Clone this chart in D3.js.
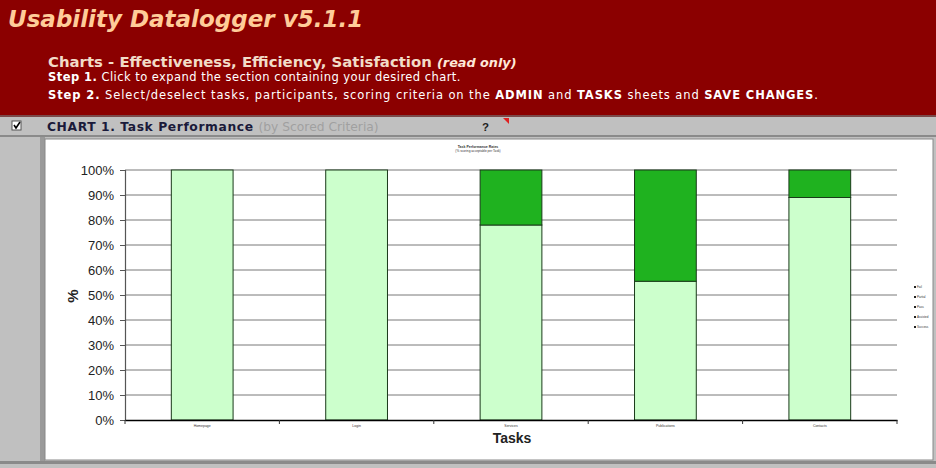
<!DOCTYPE html>
<html><head><meta charset="utf-8">
<script src="https://cdn.jsdelivr.net/npm/d3@7"></script>
<style>
body{margin:0;padding:0;background:#c0c0c0;}
svg{display:block;}
</style></head>
<body>
<svg id="c" width="936" height="468"></svg>
<script>
const categories = ["Homepage", "Login", "Services", "Publications", "Contacts"];
const passValues = [100, 100, 78, 55.5, 89];
const failValues = [0, 0, 22, 44.5, 11];
const yTicks = [0, 10, 20, 30, 40, 50, 60, 70, 80, 90, 100];

(function () {
const svg = d3.select("#c");
const W = 936, H = 468;

// background
svg.append("rect").attr("width", W).attr("height", H).attr("fill", "#c0c0c0");
// header band
svg.append("rect").attr("x", 0).attr("y", 0).attr("width", W).attr("height", 116).attr("fill", "#8b0000");
svg.append("rect").attr("x", 0).attr("y", 115).attr("width", W).attr("height", 2).attr("fill", "#7a4a4a");

svg.append("text").attr("x", 8).attr("y", 27)
  .attr("font-family", "Verdana, 'DejaVu Sans', sans-serif").attr("font-size", 23)
  .attr("font-weight", "bold").attr("font-style", "italic").attr("fill", "#ffcc99")
  .text("Usability Datalogger v5.1.1");

const sub = svg.append("text").attr("x", 48).attr("y", 67)
  .attr("font-family", "Verdana, 'DejaVu Sans', sans-serif").attr("font-size", 14.9)
  .attr("font-weight", "bold").attr("fill", "#f2dcc8");
sub.append("tspan").text("Charts - Effectiveness, Efficiency, Satisfaction ");
sub.append("tspan").attr("font-style", "italic").attr("font-size", 12.8).attr("fill", "#ffe8d8").text("(read only)");

const s1 = svg.append("text").attr("x", 48).attr("y", 81)
  .attr("font-family", "Verdana, 'DejaVu Sans', sans-serif").attr("font-size", 11.5)
  .attr("letter-spacing", 0.45).attr("fill", "#ffffff");
s1.append("tspan").attr("font-weight", "bold").text("Step 1.");
s1.append("tspan").text(" Click to expand the section containing your desired chart.");

const s2 = svg.append("text").attr("x", 48).attr("y", 99)
  .attr("font-family", "Verdana, 'DejaVu Sans', sans-serif").attr("font-size", 11.5)
  .attr("letter-spacing", 0.9).attr("fill", "#ffffff");
s2.append("tspan").attr("font-weight", "bold").text("Step 2.");
s2.append("tspan").text(" Select/deselect tasks, participants, scoring criteria on the ");
s2.append("tspan").attr("font-weight", "bold").text("ADMIN");
s2.append("tspan").text(" and ");
s2.append("tspan").attr("font-weight", "bold").text("TASKS");
s2.append("tspan").text(" sheets and ");
s2.append("tspan").attr("font-weight", "bold").text("SAVE CHANGES");
s2.append("tspan").text(".");

// section bar
svg.append("rect").attr("x", 0).attr("y", 117).attr("width", W).attr("height", 19).attr("fill", "#c0c0c0");
svg.append("rect").attr("x", 0).attr("y", 135).attr("width", W).attr("height", 2).attr("fill", "#8a8a8a");
// checkbox
svg.append("rect").attr("x", 12).attr("y", 121).attr("width", 9).attr("height", 9).attr("fill", "#fff").attr("stroke", "#555");
svg.append("path").attr("d", "M14 125 L16 128 L20 122").attr("stroke", "#000").attr("stroke-width", 1.6).attr("fill", "none");

const ct = svg.append("text").attr("x", 47).attr("y", 131)
  .attr("font-family", "Verdana, 'DejaVu Sans', sans-serif").attr("font-size", 12.3).attr("font-weight", "bold").attr("fill", "#1a1a3a");
ct.append("tspan").attr("letter-spacing", 0.6).text("CHART 1. Task Performance ");
ct.append("tspan").attr("font-weight", "normal").attr("fill", "#a0a0a0").text("(by Scored Criteria)");
svg.append("text").attr("x", 482).attr("y", 131).attr("font-family", "Verdana, sans-serif")
  .attr("font-size", 11.5).attr("font-weight", "bold").attr("fill", "#222").text("?");
svg.append("path").attr("d", "M503 118 L509 118 L509 124 Z").attr("fill", "#e02020");

// chart panel
svg.append("rect").attr("x", 40).attr("y", 137).attr("width", 5).attr("height", 325).attr("fill", "#9a9a9a");
svg.append("rect").attr("x", 45).attr("y", 139).attr("width", 888).attr("height", 321).attr("fill", "#ffffff")
  .attr("stroke", "#888").attr("stroke-width", 1);
svg.append("rect").attr("x", 0).attr("y", 461).attr("width", W).attr("height", 3).attr("fill", "#8a8a8a");

// chart title (tiny)
svg.append("text").attr("x", 478).attr("y", 148).attr("text-anchor", "middle")
  .attr("font-family", "Arial, 'Liberation Sans', sans-serif").attr("font-size", 3.5).attr("font-weight", "bold").attr("fill", "#333")
  .text("Task Performance Rates");
svg.append("text").attr("x", 478).attr("y", 152).attr("text-anchor", "middle")
  .attr("font-family", "Arial, 'Liberation Sans', sans-serif").attr("font-size", 3.2).attr("fill", "#333")
  .text("(% scoring acceptable per Task)");

// plot
const pLeft = 125, pRight = 897, pTop = 170, pBottom = 420;
const x = d3.scaleBand().domain(categories).range([pLeft, pRight]).paddingInner(0.6).paddingOuter(0.3);
const xb = d3.scaleBand().domain(categories).range([pLeft, pRight]);
const y = d3.scaleLinear().domain([0, 100]).range([pBottom, pTop]);

// gridlines
svg.append("g").selectAll("line").data(yTicks.filter(d => d > 0)).join("line")
  .attr("x1", pLeft).attr("x2", pRight).attr("y1", d => y(d)).attr("y2", d => y(d))
  .attr("stroke", "#555").attr("stroke-width", 0.8);

// bars
const g = svg.append("g");
g.selectAll("rect.pass").data(categories).join("rect").attr("class", "pass")
  .attr("x", d => x(d)).attr("width", x.bandwidth())
  .attr("y", (d, i) => y(passValues[i])).attr("height", (d, i) => y(0) - y(passValues[i]))
  .attr("fill", "#ccffcc").attr("stroke", "#1a3a1a").attr("stroke-width", 1);
g.selectAll("rect.fail").data(categories).join("rect").attr("class", "fail")
  .attr("x", d => x(d)).attr("width", x.bandwidth())
  .attr("y", (d, i) => y(passValues[i] + failValues[i])).attr("height", (d, i) => y(passValues[i]) - y(passValues[i] + failValues[i]))
  .attr("fill", "#1fb21f").attr("stroke", "#1a3a1a").attr("stroke-width", 1)
  .attr("display", (d, i) => failValues[i] > 0 ? null : "none");

// y axis
const ya = svg.append("g").attr("transform", `translate(${pLeft},0)`)
  .call(d3.axisLeft(y).tickValues(yTicks).tickFormat(d => d + "%").tickSize(5).tickPadding(6));
ya.select(".domain").attr("stroke", "#555").attr("stroke-width", 1.2);
ya.selectAll(".tick line").attr("stroke", "#555");
ya.selectAll("text").attr("font-family", "Arial, 'Liberation Sans', sans-serif").attr("font-size", 13).attr("fill", "#222");

// x axis
const xa = svg.append("g").attr("transform", `translate(0,${pBottom})`)
  .call(d3.axisBottom(xb).tickSize(0).tickPadding(5));
xa.select(".domain").attr("stroke", "#000").attr("stroke-width", 1.5);
xa.selectAll("text").attr("font-family", "Arial, sans-serif").attr("font-size", 3.5).attr("fill", "#333");
// category separator ticks
svg.append("g").selectAll("line").data(categories.concat(["end"])).join("line")
  .attr("x1", (d, i) => i < categories.length ? xb(d) : pRight)
  .attr("x2", (d, i) => i < categories.length ? xb(d) : pRight)
  .attr("y1", pBottom).attr("y2", pBottom + 4).attr("stroke", "#333");

// axis titles
svg.append("text").attr("transform", `translate(78,296) rotate(-90)`).attr("text-anchor", "middle")
  .attr("font-family", "Arial, 'Liberation Sans', sans-serif").attr("font-size", 15).attr("font-weight", "bold").attr("fill", "#222")
  .text("%");
svg.append("text").attr("x", 512).attr("y", 443).attr("text-anchor", "middle")
  .attr("font-family", "Arial, 'Liberation Sans', sans-serif").attr("font-size", 14).attr("font-weight", "bold").attr("fill", "#222")
  .text("Tasks");

// tiny legend
const legendItems = ["Fail", "Partial", "Pass", "Assisted", "Success"];
const lg = svg.append("g").attr("transform", "translate(914,287)");
legendItems.forEach((t, i) => {
  lg.append("rect").attr("x", 0).attr("y", i * 10 - 1).attr("width", 2).attr("height", 2).attr("fill", "#222");
  lg.append("text").attr("x", 3).attr("y", i * 10 + 1).attr("font-size", 3).attr("font-family", "Arial").attr("fill", "#333").text(t);
});
})();
</script>
</body></html>
